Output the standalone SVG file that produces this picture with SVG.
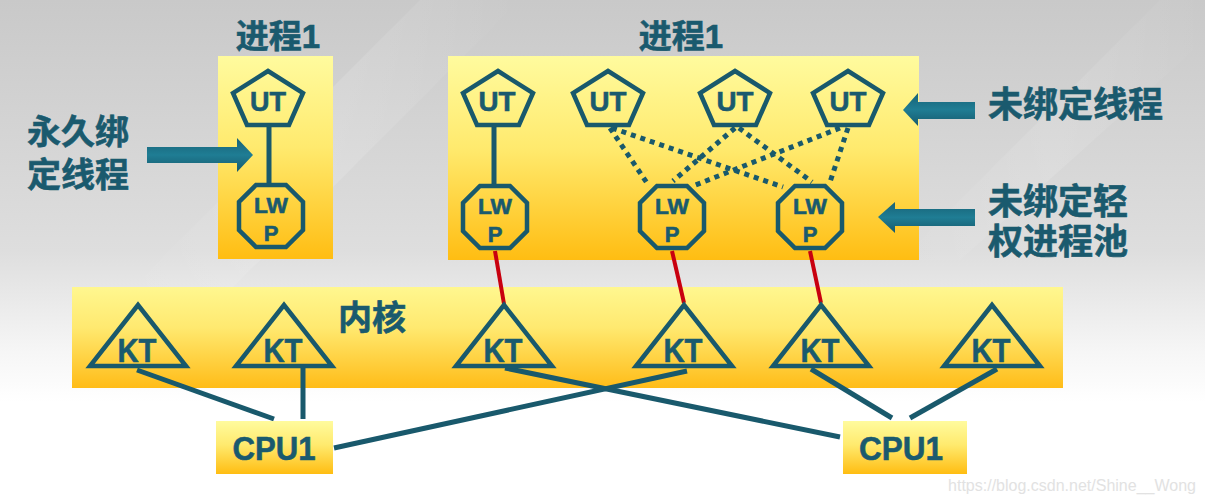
<svg xmlns="http://www.w3.org/2000/svg" width="1205" height="503" viewBox="0 0 1205 503">
<defs>
<linearGradient id="bg" x1="0" y1="0" x2="0" y2="1">
<stop offset="0" stop-color="#c9c9c9"/>
<stop offset="0.5" stop-color="#dedede"/>
<stop offset="0.7" stop-color="#f6f6f6"/>
<stop offset="0.8" stop-color="#ffffff"/>
</linearGradient>
<linearGradient id="streak" x1="0" y1="0" x2="1" y2="0">
<stop offset="0" stop-color="#ffffff" stop-opacity="0"/>
<stop offset="0.5" stop-color="#ffffff" stop-opacity="0.25"/>
<stop offset="1" stop-color="#ffffff" stop-opacity="0"/>
</linearGradient>
<linearGradient id="yel" x1="0" y1="0" x2="0" y2="1">
<stop offset="0" stop-color="#fffb9e"/>
<stop offset="0.45" stop-color="#ffea6e"/>
<stop offset="1" stop-color="#ffbd12"/>
</linearGradient>
<linearGradient id="yel2" x1="0" y1="0" x2="0" y2="1">
<stop offset="0" stop-color="#fff78f"/>
<stop offset="0.4" stop-color="#ffe970"/>
<stop offset="1" stop-color="#ffbc18"/>
</linearGradient>
<linearGradient id="arr" x1="0" y1="0" x2="0" y2="1">
<stop offset="0" stop-color="#186276"/>
<stop offset="0.5" stop-color="#1f7d94"/>
<stop offset="1" stop-color="#165a6d"/>
</linearGradient>
<polygon id="pent" points="0,-30 35,-8 21,24 -21,24 -35,-8"/>
<polygon id="oct" points="-15,-31 15,-31 32,-14 32,14 15,31 -15,31 -32,14 -32,-14"/>
<polygon id="tri" points="0,-61 48,0 -48,0"/>
</defs>
<style>
.shape{fill:none;stroke:#19596c;stroke-width:4.5;stroke-linejoin:miter}
.t{font-family:"Liberation Sans","Noto Sans CJK SC",sans-serif;font-weight:bold;fill:#1a5a6e;stroke:#1a5a6e;stroke-width:0.6}
.cj{font-family:"Liberation Sans","Noto Sans CJK SC",sans-serif;font-weight:bold;fill:#1a5a6e;stroke:#1a5a6e;stroke-width:0.6}
.ln{stroke:#19596c;stroke-width:5;fill:none}
.dot{stroke:#19596c;stroke-width:5;stroke-dasharray:5 5;fill:none}
.red{stroke:#c8000f;stroke-width:4;fill:none}
.arrow{fill:url(#arr)}
</style>
<rect x="0" y="0" width="1205" height="503" fill="url(#bg)"/>
<polygon points="120,300 420,0 520,0 220,300" fill="url(#streak)" opacity="0.6"/>
<polygon points="900,260 1160,0 1205,0 1205,40 960,260" fill="url(#streak)" opacity="0.5"/>

<g id="process-left">
<rect x="218" y="56" width="115" height="203" fill="url(#yel)"/>
<text class="cj" x="278" y="48" font-size="33" text-anchor="middle">进程1</text>
</g>
<g id="process-right">
<rect x="448" y="56" width="471" height="204" fill="url(#yel)"/>
<text class="cj" x="681" y="48" font-size="33" text-anchor="middle">进程1</text>
</g>
<g id="kernel">
<rect x="72" y="287" width="991" height="101" fill="url(#yel2)"/>
<text class="cj" x="372" y="330" font-size="34" text-anchor="middle">内核</text>
</g>

<g id="connectors">
<line class="ln" x1="269" y1="125" x2="269" y2="186"/>
<line class="ln" x1="494" y1="125" x2="494" y2="186"/>
<line class="dot" x1="610" y1="128" x2="647" y2="183"/>
<line class="dot" x1="612" y1="128" x2="783" y2="187"/>
<line class="dot" x1="735" y1="128" x2="673" y2="181"/>
<line class="dot" x1="739" y1="128" x2="812" y2="182"/>
<line class="dot" x1="840" y1="128" x2="693" y2="186"/>
<line class="dot" x1="848" y1="128" x2="830" y2="182"/>
<line class="red" x1="495" y1="251" x2="504" y2="304"/>
<line class="red" x1="672" y1="251" x2="684" y2="303"/>
<line class="red" x1="810" y1="251" x2="821" y2="303"/>
<line class="ln" x1="137" y1="370" x2="274" y2="419"/>
<line class="ln" x1="303" y1="366" x2="303" y2="419"/>
<line class="ln" x1="334" y1="448" x2="687" y2="371"/>
<line class="ln" x1="505" y1="368" x2="840" y2="437"/>
<line class="ln" x1="811" y1="369" x2="892" y2="418"/>
<line class="ln" x1="997" y1="369" x2="910" y2="418"/>
</g>

<g id="ut-left">
<use href="#pent" class="shape" x="268" y="101"/>
<text class="t" x="268" y="111" font-size="27" text-anchor="middle" textLength="36" lengthAdjust="spacingAndGlyphs">UT</text>
</g>
<g id="lwp-left">
<use href="#oct" class="shape" x="271" y="216"/>
<text class="t" x="271" y="213" font-size="22" text-anchor="middle" textLength="34" lengthAdjust="spacingAndGlyphs">LW</text>
<text class="t" x="271" y="241" font-size="22" text-anchor="middle">P</text>
</g>
<g id="ut-1">
<use href="#pent" class="shape" x="498" y="101"/>
<text class="t" x="497" y="111" font-size="28" text-anchor="middle" textLength="37" lengthAdjust="spacingAndGlyphs">UT</text>
</g>
<g id="ut-2">
<use href="#pent" class="shape" x="608" y="101"/>
<text class="t" x="608" y="111" font-size="28" text-anchor="middle" textLength="37" lengthAdjust="spacingAndGlyphs">UT</text>
</g>
<g id="ut-3">
<use href="#pent" class="shape" x="735" y="101"/>
<text class="t" x="735" y="111" font-size="28" text-anchor="middle" textLength="37" lengthAdjust="spacingAndGlyphs">UT</text>
</g>
<g id="ut-4">
<use href="#pent" class="shape" x="848" y="101"/>
<text class="t" x="848" y="111" font-size="28" text-anchor="middle" textLength="37" lengthAdjust="spacingAndGlyphs">UT</text>
</g>
<g id="lwp-1">
<use href="#oct" class="shape" x="495" y="217"/>
<text class="t" x="495" y="214" font-size="22" text-anchor="middle" textLength="34" lengthAdjust="spacingAndGlyphs">LW</text>
<text class="t" x="495" y="242" font-size="22" text-anchor="middle">P</text>
</g>
<g id="lwp-2">
<use href="#oct" class="shape" x="672" y="217"/>
<text class="t" x="672" y="214" font-size="22" text-anchor="middle" textLength="34" lengthAdjust="spacingAndGlyphs">LW</text>
<text class="t" x="672" y="242" font-size="22" text-anchor="middle">P</text>
</g>
<g id="lwp-3">
<use href="#oct" class="shape" x="810" y="217"/>
<text class="t" x="810" y="214" font-size="22" text-anchor="middle" textLength="34" lengthAdjust="spacingAndGlyphs">LW</text>
<text class="t" x="810" y="242" font-size="22" text-anchor="middle">P</text>
</g>

<g id="kt-1">
<use href="#tri" class="shape" x="138" y="366"/>
<text class="t" x="137" y="362" font-size="33" text-anchor="middle" textLength="39" lengthAdjust="spacingAndGlyphs">KT</text>
</g>
<g id="kt-2">
<use href="#tri" class="shape" x="284" y="366"/>
<text class="t" x="283" y="362" font-size="33" text-anchor="middle" textLength="39" lengthAdjust="spacingAndGlyphs">KT</text>
</g>
<g id="kt-3">
<use href="#tri" class="shape" x="504" y="366"/>
<text class="t" x="503" y="362" font-size="33" text-anchor="middle" textLength="39" lengthAdjust="spacingAndGlyphs">KT</text>
</g>
<g id="kt-4">
<use href="#tri" class="shape" x="684" y="366"/>
<text class="t" x="683" y="362" font-size="33" text-anchor="middle" textLength="39" lengthAdjust="spacingAndGlyphs">KT</text>
</g>
<g id="kt-5">
<use href="#tri" class="shape" x="821" y="366"/>
<text class="t" x="820" y="362" font-size="33" text-anchor="middle" textLength="39" lengthAdjust="spacingAndGlyphs">KT</text>
</g>
<g id="kt-6">
<use href="#tri" class="shape" x="992" y="366"/>
<text class="t" x="991" y="362" font-size="33" text-anchor="middle" textLength="39" lengthAdjust="spacingAndGlyphs">KT</text>
</g>

<g id="cpu-1">
<rect x="216" y="421" width="117" height="53" fill="url(#yel)"/>
<text class="t" x="274" y="460" font-size="34" text-anchor="middle" textLength="83" lengthAdjust="spacingAndGlyphs">CPU1</text>
</g>
<g id="cpu-2">
<rect x="843" y="421" width="124" height="53" fill="url(#yel)"/>
<text class="t" x="901" y="460" font-size="34" text-anchor="middle" textLength="84" lengthAdjust="spacingAndGlyphs">CPU1</text>
</g>

<g id="label-bound">
<text class="cj" font-size="34" text-anchor="middle"><tspan x="78" y="144">永久绑</tspan><tspan x="78" y="187">定线程</tspan></text>
<polygon class="arrow" points="147,147 237,147 237,138 253,155 237,172 237,163 147,163"/>
</g>
<g id="label-unbound-ut">
<polygon class="arrow" points="975,102 918,102 918,93 903,110 918,126 918,119 975,119"/>
<text class="cj" x="988" y="117" font-size="35">未绑定线程</text>
</g>
<g id="label-unbound-lwp">
<polygon class="arrow" points="975,209 895,209 895,202 878,217 895,233 895,226 975,226"/>
<text class="cj" font-size="35"><tspan x="988" y="214">未绑定轻</tspan><tspan x="988" y="254">权进程池</tspan></text>
</g>
<text x="1072" y="491" font-family="Liberation Sans, sans-serif" font-size="16" fill="#e2e2e2" text-anchor="middle">https://blog.csdn.net/Shine__Wong</text>
</svg>
